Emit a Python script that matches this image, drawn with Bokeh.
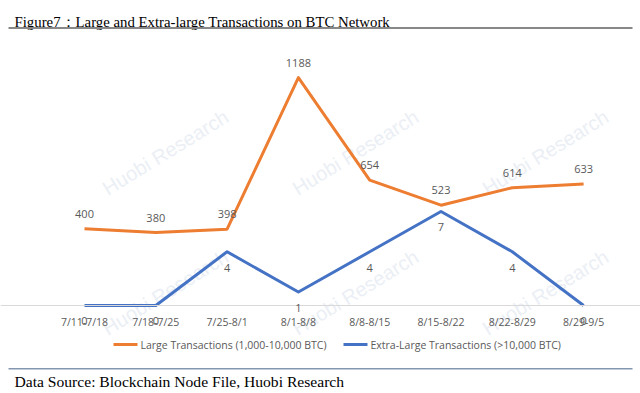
from bokeh.plotting import figure
from bokeh.models import (Range1d, Label, LabelSet, ColumnDataSource, BoxAnnotation, Span)
from bokeh.core.properties import value
from bokeh.embed import file_html
from bokeh.resources import INLINE

# ---------------- data ----------------
categories = ["7/11-7/18", "7/18-7/25", "7/25-8/1", "8/1-8/8",
              "8/8-8/15", "8/15-8/22", "8/22-8/29", "8/29-9/5"]
large = [400, 380, 398, 1188, 654, 523, 614, 633]
extra_large = [0, 0, 4, 1, 4, 7, 4, 0]
large_name = "Large Transactions (1,000-10,000 BTC)"
extra_name = "Extra-Large Transactions (>10,000 BTC)"
title_text = "Figure7：Large and Extra-large Transactions on BTC Network"
source_text = "Data Source: Blockchain Node File, Huobi Research"
watermark_text = "Huobi Research"

ORANGE = "#ED7D31"
BLUE = "#4472C4"
GREY_TXT = "#595959"
CAT_FONT = "Open Sans"
SERIF = "Liberation Serif"

W, H = 640, 393
idx = list(range(len(categories)))

p = figure(width=W, height=H,
           x_range=Range1d(-1.178, 7.798), y_range=Range1d(-458.8, 1590.2),
           output_backend="svg", toolbar_location=None,
           min_border=0, x_axis_location=None, y_axis_location=None,
           outline_line_color=None)
p.extra_y_ranges = {"blue": Range1d(-6.553, 22.71), "py": Range1d(H, 0)}
p.extra_x_ranges = {"px": Range1d(0, W)}
p.xgrid.grid_line_color = None
p.ygrid.grid_line_color = None

# faint watermark (decoration), only the fully visible tiles
wm_x, wm_y = [], []
for cy in (152, 292):
    for cx in (165, 355, 545):
        wm_x.append(cx)
        wm_y.append(cy)
src_wm = ColumnDataSource(dict(x=wm_x, y=wm_y, t=[watermark_text] * len(wm_x)))
p.add_layout(LabelSet(x="x", y="y", text="t", source=src_wm,
                      x_range_name="px", y_range_name="py", angle=0.55,
                      text_align="center", text_baseline="middle",
                      text_font=value("Liberation Sans"), text_font_size="20px",
                      text_color="#ebeff5", level="underlay"))

# category axis baseline
p.add_layout(Span(location=0, dimension="width", line_color="#d9d9d9", line_width=1.2))

# series
p.line(x=idx, y=large, line_color=ORANGE, line_width=3, line_join="round")
p.line(x=idx, y=extra_large, y_range_name="blue", line_color=BLUE,
       line_width=3, line_join="round")

# category tick labels
src_c = ColumnDataSource(dict(x=idx, y=[0] * len(idx), t=categories))
p.add_layout(LabelSet(x="x", y="y", text="t", source=src_c, y_offset=-16,
                      text_align="center", text_baseline="middle",
                      text_font=value(CAT_FONT), text_font_size="10.5px",
                      text_color=GREY_TXT))

# data labels
src_l = ColumnDataSource(dict(x=idx, y=large, t=[str(v) for v in large]))
src_e = ColumnDataSource(dict(x=idx, y=extra_large, t=[str(v) for v in extra_large]))
p.add_layout(LabelSet(x="x", y="y", text="t", source=src_l, y_offset=15,
                      text_align="center", text_baseline="middle",
                      text_font=value(CAT_FONT), text_font_size="11px",
                      text_color=GREY_TXT))
p.add_layout(LabelSet(x="x", y="y", text="t", source=src_e, y_range_name="blue",
                      y_offset=-16, text_align="center", text_baseline="middle",
                      text_font=value(CAT_FONT), text_font_size="11px",
                      text_color=GREY_TXT))


def box(l, r, t, b, color):
    return BoxAnnotation(left=l, right=r, top=t, bottom=b,
                         x_range_name="px", y_range_name="py",
                         fill_color=color, fill_alpha=1, line_color=None, level="overlay")


def label(x, y, text, font, size, color, baseline="middle"):
    return Label(x=x, y=y, text=text, x_range_name="px", y_range_name="py",
                 text_baseline=baseline, text_font=font, text_font_size=size,
                 text_color=color)


# legend
p.add_layout(box(113, 137, 342.5, 345.5, ORANGE))
p.add_layout(label(140, 344, large_name, CAT_FONT, "10.5px", GREY_TXT))
p.add_layout(box(343, 367, 342.5, 345.5, BLUE))
p.add_layout(label(370, 344, extra_name, CAT_FONT, "10.5px", GREY_TXT))

# title and rule
p.add_layout(label(14, 21, title_text, SERIF, "14.8px", "#000000", "alphabetic"))
p.add_layout(box(8, 632, 26.5, 28.5, "#888888"))

# footer rule and text
p.add_layout(box(8, 632, 367.5, 369, "#8497b0"))
p.add_layout(label(14, 381, source_text, SERIF, "15.6px", "#000000", "middle"))

open("out.html", "w").write(file_html(p, INLINE))
